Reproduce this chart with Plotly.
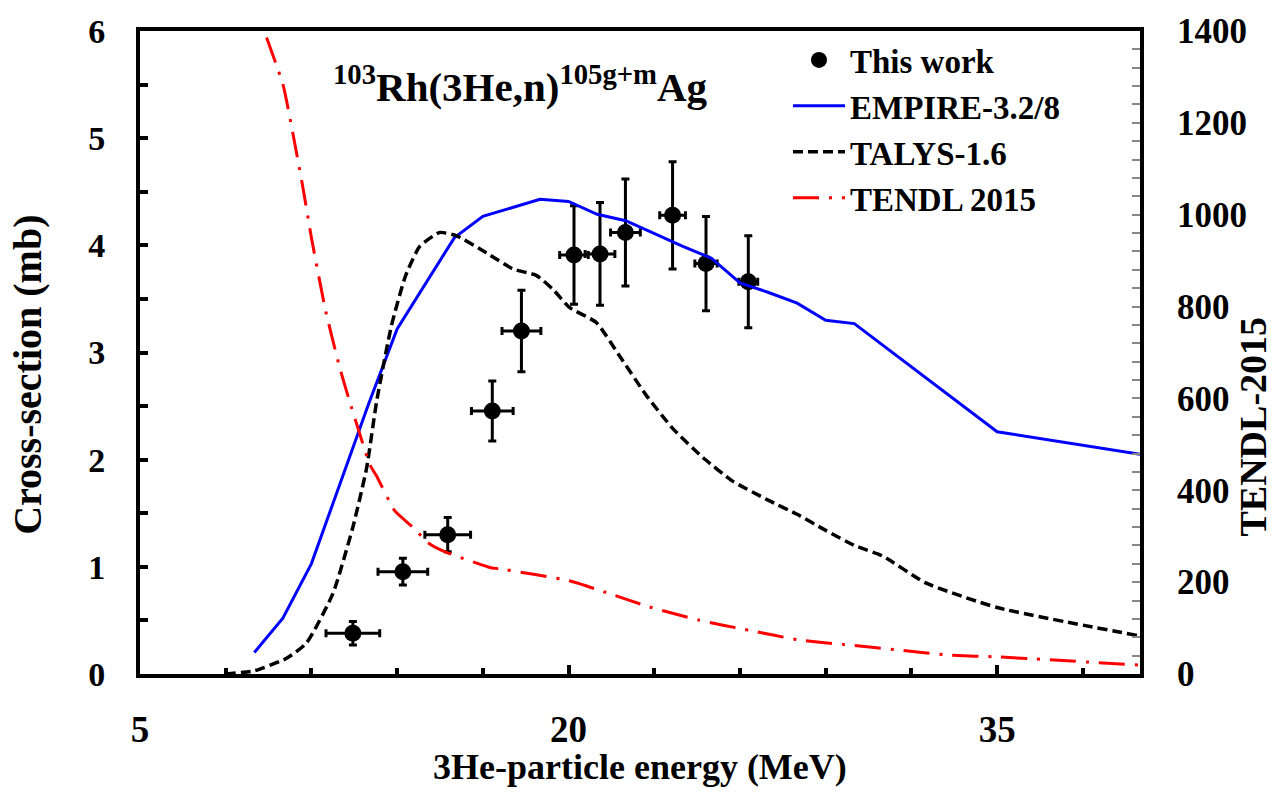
import plotly.graph_objects as go

# ---- data ----
exp_E = [12.45, 14.2, 15.77, 17.33, 18.35, 20.19, 21.1, 21.99, 23.64, 24.81, 26.29]
exp_sigma = [0.38, 0.955, 1.30, 2.455, 3.20, 3.91, 3.92, 4.12, 4.28, 3.83, 3.66]
exp_dE = [0.94, 0.87, 0.80, 0.73, 0.68, 0.50, 0.52, 0.52, 0.45, 0.39, 0.33]
exp_dsigma = [0.11, 0.125, 0.16, 0.28, 0.38, 0.46, 0.48, 0.50, 0.50, 0.44, 0.43]

empire_E = [9, 10, 11, 12, 13, 14, 15, 16, 17, 18, 19, 20, 21, 22, 23, 24, 25, 26, 27, 28, 29, 30, 35, 40]
empire_sigma = [0.20, 0.52, 1.03, 1.78, 2.52, 3.22, 3.65, 4.07, 4.27, 4.35, 4.43, 4.41, 4.29, 4.23,
                4.11, 3.99, 3.88, 3.65, 3.56, 3.46, 3.30, 3.27, 2.26, 2.05]

talys_E = [8.0, 9.0, 10.13, 10.83, 11.75, 12.45, 12.93, 13.28, 13.8, 14.3, 14.79, 15.49, 16.07, 17.12,
           18.05, 18.87, 19.45, 20.03, 20.97, 21.78, 22.72, 23.65, 24.70, 25.74, 27.0, 28.0, 29.0,
           30.0, 31.0, 32.5, 35.0, 40.0]
talys_sigma = [0.0, 0.03, 0.146, 0.29, 0.75, 1.37, 1.92, 2.54, 3.25, 3.72, 3.99, 4.12, 4.09, 3.93,
               3.78, 3.72, 3.59, 3.42, 3.28, 2.97, 2.60, 2.29, 2.02, 1.80, 1.62, 1.49, 1.34,
               1.20, 1.10, 0.85, 0.62, 0.355]

tendl_E = [9.43, 10.01, 10.36, 10.7, 11.0, 11.5, 12.0, 12.34, 12.63, 13.04, 13.28, 13.92, 14.56,
           15.08, 15.6, 17.24, 17.59, 20.03, 21.43, 22.83, 24.58, 26.33, 28.08, 29.83, 31.57,
           33.32, 35.07, 40.0]
tendl_val = [1386, 1282, 1174, 1060, 950, 790, 665, 593, 535, 456, 431, 355, 319,
             286, 268, 232, 229, 203, 175, 146, 117, 95, 74, 63, 52,
             41, 37, 19.5]

FONT = "Liberation Serif"

fig = go.Figure()

fig.add_trace(go.Scatter(
    x=exp_E, y=exp_sigma, mode="markers", name="This work",
    marker=dict(symbol="circle", size=17, color="black"),
    error_x=dict(type="data", array=exp_dE, color="black", thickness=3, width=4),
    error_y=dict(type="data", array=exp_dsigma, color="black", thickness=3, width=4),
))
fig.add_trace(go.Scatter(
    x=empire_E, y=empire_sigma, mode="lines", name="EMPIRE-3.2/8",
    line=dict(color="#0000ff", width=3),
))
fig.add_trace(go.Scatter(
    x=talys_E, y=talys_sigma, mode="lines", name="TALYS-1.6",
    line=dict(color="black", width=3.5, dash="10px,5px", shape="spline", smoothing=0.5),
))
fig.add_trace(go.Scatter(
    x=tendl_E, y=tendl_val, mode="lines", name="TENDL 2015", yaxis="y2",
    line=dict(color="#ff0000", width=3, dash="26px,10px,3px,10px", shape="spline", smoothing=0.5),
))

px_x = lambda p: (p - 140) / 1000
px_y = lambda p: (674 - p) / 647

fig.update_layout(
    width=1275, height=792,
    margin=dict(l=140, r=135, t=27, b=118),
    paper_bgcolor="white", plot_bgcolor="white",
    font=dict(family=FONT, color="black", size=28, weight="bold"),
    showlegend=True,
    legend=dict(
        x=px_x(788), y=px_y(28), xanchor="left", yanchor="top",
        bgcolor="rgba(0,0,0,0)", borderwidth=0,
        font=dict(family=FONT, size=33, color="black", weight="bold"),
        itemwidth=52, tracegroupgap=0,
    ),
    xaxis=dict(
        range=[5, 40], tick0=5, dtick=15,
        showline=True, linecolor="black", linewidth=4, mirror=True,
        ticks="inside", ticklen=9, tickwidth=4, tickcolor="black",
        minor=dict(tick0=5, dtick=3, ticks="inside", ticklen=6, tickwidth=4, tickcolor="black"),
        showgrid=False, zeroline=False,
        tickfont=dict(family=FONT, size=37, color="black", weight="bold"),
        ticklabelstandoff=20,
    ),
    yaxis=dict(
        range=[0, 6], tick0=0, dtick=1,
        showline=True, linecolor="black", linewidth=4, mirror=False,
        ticks="inside", ticklen=8, tickwidth=4, tickcolor="black",
        minor=dict(dtick=0.5, ticks="inside", ticklen=8, tickwidth=4, tickcolor="black"),
        showgrid=False, zeroline=False,
        tickfont=dict(family=FONT, size=34, color="black", weight="bold"),
        ticklabelstandoff=24,
    ),
    yaxis2=dict(
        range=[0, 1400], tick0=0, dtick=200, overlaying="y", side="right",
        showline=True, linecolor="black", linewidth=4,
        ticks="inside", ticklen=8, tickwidth=2, tickcolor="#888888",
        minor=dict(dtick=40, ticks="inside", ticklen=8, tickwidth=2, tickcolor="#888888"),
        showgrid=False, zeroline=False,
        tickfont=dict(family=FONT, size=35, color="black", weight="bold"),
        ticklabelstandoff=26,
    ),
    annotations=[
        dict(text="<sup>103</sup>Rh(3He,n)<sup>105g+m</sup>Ag", x=px_x(520), y=px_y(80),
             xref="paper", yref="paper", xanchor="center", yanchor="middle", showarrow=False,
             font=dict(family=FONT, size=41, color="black", weight="bold")),
        dict(text="3He-particle energy (MeV)", x=px_x(640), y=px_y(768), xref="paper", yref="paper",
             xanchor="center", yanchor="middle", showarrow=False,
             font=dict(family=FONT, size=36, color="black", weight="bold")),
        dict(text="Cross-section (mb)", x=px_x(28), y=px_y(373), xref="paper", yref="paper",
             xanchor="center", yanchor="middle", textangle=-90, showarrow=False,
             font=dict(family=FONT, size=40, color="black", weight="bold")),
        dict(text="TENDL-2015", x=px_x(1253), y=px_y(425), xref="paper", yref="paper",
             xanchor="center", yanchor="middle", textangle=-90, showarrow=False,
             font=dict(family=FONT, size=38, color="black", weight="bold")),
    ],
)

fig.write_html("out.html")
